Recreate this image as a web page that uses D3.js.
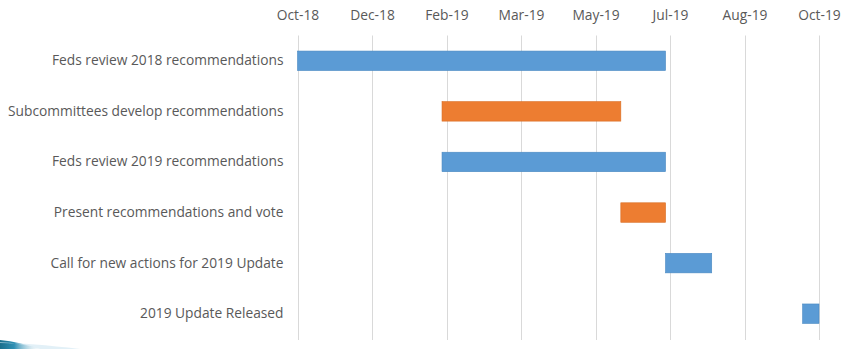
<!DOCTYPE html>
<html>
<head>
<meta charset="utf-8">
<script src="https://cdn.jsdelivr.net/npm/d3@7"></script>
<style>
  html, body { margin: 0; padding: 0; background: #ffffff; }
  svg { display: block; }
</style>
</head>
<body>
<svg id="chart" width="850" height="349"></svg>
<script>
// ---- data ----
const tasks = [
  "Feds review 2018 recommendations",
  "Subcommittees develop recommendations",
  "Feds review 2019 recommendations",
  "Present recommendations and vote",
  "Call for new actions for 2019 Update",
  "2019 Update Released"
];
const startDates = ["2018-10-01", "2019-02-01", "2019-02-01", "2019-06-01", "2019-07-01", "2019-10-01"];
const endDates   = ["2019-07-01", "2019-06-01", "2019-07-01", "2019-07-01", "2019-08-01", "2019-10-31"];
const seriesColors = ["blue", "orange", "blue", "orange", "blue", "blue"];
const axisMin = "2018-10-27";
const axisMax = "2019-10-12";
const tickDates = ["2018-10-27", "2018-12-16", "2019-02-04", "2019-03-26", "2019-05-15", "2019-07-04", "2019-08-23", "2019-10-12"];

// ---- layout ----
const parse = d3.utcParse("%Y-%m-%d");
const fmt = d3.utcFormat("%b-%y");
const margin = { left: 297.5, right: 31, top: 35.5, bottom: 10 };
const W = 850, H = 349;
const svg = d3.select("#chart");

const x = d3.scaleUtc()
  .domain([parse(axisMin), parse(axisMax)])
  .range([margin.left, W - margin.right])
  .clamp(true);

const y = d3.scaleBand()
  .domain(tasks)
  .range([margin.top, H - margin.bottom])
  .paddingInner(0.615)
  .paddingOuter(0.3075);

const palette = { blue: "#5B9BD5", orange: "#ED7D31" };
const stroke = { blue: "#4A89C2", orange: "#D86C22" };

// decoration swoosh bottom-left
const defs = svg.append("defs");
const grad = defs.append("linearGradient").attr("id", "sw").attr("x1", "0").attr("x2", "1");
grad.append("stop").attr("offset", "0").attr("stop-color", "#1b6f8c");
grad.append("stop").attr("offset", "0.35").attr("stop-color", "#2f8fb3");
grad.append("stop").attr("offset", "1").attr("stop-color", "#e6f2f8").attr("stop-opacity", 0.2);
svg.append("path")
  .attr("d", "M0,340 Q20,342 40,349 L0,349 Z")
  .attr("fill", "url(#sw)");
svg.append("path")
  .attr("d", "M0,343 Q30,343 80,349 L40,349 Q20,343 0,342 Z")
  .attr("fill", "#cfe6f2").attr("opacity", 0.6);

// gridlines
const grid = svg.append("g");
grid.selectAll("line").data(tickDates).join("line")
  .attr("x1", d => Math.round(x(parse(d))) + 0.5)
  .attr("x2", d => Math.round(x(parse(d))) + 0.5)
  .attr("y1", margin.top)
  .attr("y2", H - 9)
  .attr("stroke", "#d9d9d9")
  .attr("stroke-width", 1);

// top axis labels
const xAxis = d3.axisTop(x)
  .tickValues(tickDates.map(parse))
  .tickFormat(fmt)
  .tickSize(0)
  .tickPadding(0);
const gx = svg.append("g").attr("transform", "translate(0,19.5)").call(xAxis);
gx.select(".domain").remove();
gx.selectAll("text")
  .attr("fill", "#595959")
  .attr("font-family", "'Open Sans', sans-serif")
  .attr("font-size", "13.8px")
  .attr("dy", 0);

// category labels
const yAxis = d3.axisLeft(y).tickSize(0).tickPadding(14);
const gy = svg.append("g").attr("transform", `translate(${margin.left},0)`).call(yAxis);
gy.select(".domain").remove();
gy.selectAll("text")
  .attr("fill", "#595959")
  .attr("font-family", "'Open Sans', sans-serif")
  .attr("font-size", "13.75px");

// bars
svg.append("g").selectAll("rect").data(tasks).join("rect")
  .attr("x", (d, i) => x(parse(startDates[i])))
  .attr("y", d => y(d))
  .attr("width", (d, i) => x(parse(endDates[i])) - x(parse(startDates[i])))
  .attr("height", y.bandwidth())
  .attr("fill", (d, i) => palette[seriesColors[i]])
  .attr("stroke", (d, i) => stroke[seriesColors[i]])
  .attr("stroke-width", 0.6);
</script>
</body>
</html>
